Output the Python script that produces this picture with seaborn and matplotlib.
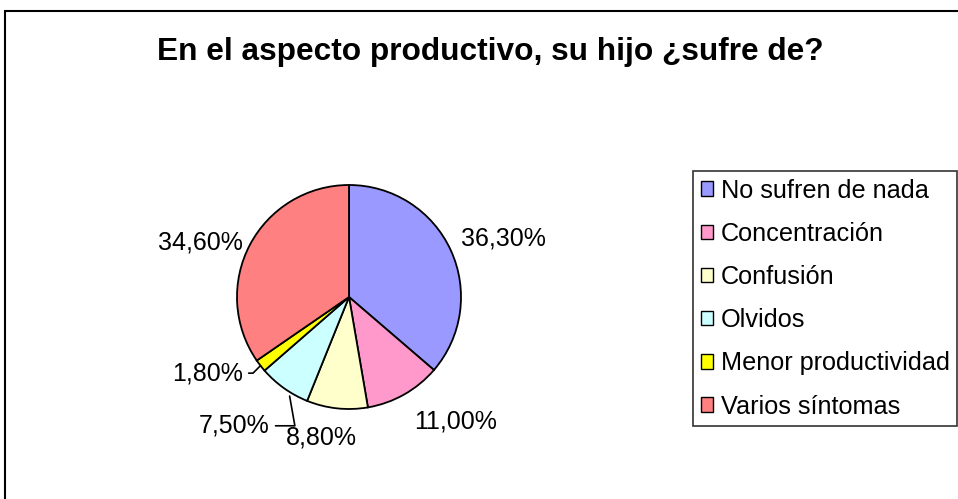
#!/usr/bin/env python3
"""
Pie chart: En el aspecto productivo, su hijo ¿sufre de?
"""
import numpy as np
import matplotlib
matplotlib.use("Agg")
import matplotlib.pyplot as plt
import seaborn as sns
from matplotlib.patches import Patch, Rectangle

sns.set_theme(style="white")
plt.rcParams['font.family'] = ['Liberation Sans', 'DejaVu Sans']
plt.rcParams['text.color'] = 'black'

# Data
categories = ["No sufren de nada", "Concentración", "Confusión", "Olvidos",
              "Menor productividad", "Varios síntomas"]
values = [36.3, 11.0, 8.8, 7.5, 1.8, 34.6]
value_labels = ["36,30%", "11,00%", "8,80%", "7,50%", "1,80%", "34,60%"]
colors = ["#9999FF", "#FF99CC", "#FFFFCC", "#CCFFFF", "#FFFF00", "#FF8080"]

W, H = 958, 499
fig = plt.figure(figsize=(W / 100, H / 100), dpi=100)

# outer frame
fig.patches.append(Rectangle((5 / W, -0.1), 1.2, 1 - 11 / H + 0.1,
                             transform=fig.transFigure, fill=False,
                             edgecolor="black", linewidth=1.5))

# pie axes: centre (349, 297) px, radius 112 px
R, lim = 112, 1.6
side = 2 * lim * R
cx, cy = 349 / W, 1 - 297 / H
ax = fig.add_axes([cx - side / 2 / W, cy - side / 2 / H, side / W, side / H])

wedges, _ = ax.pie(values, colors=colors, startangle=90, counterclock=False,
                   radius=1, wedgeprops=dict(edgecolor="black", linewidth=1.3))
ax.set_xlim(-lim, lim)
ax.set_ylim(-lim, lim)
ax.axis("off")

# label placement: (radius, angle tweak in degrees) per wedge
label_pos = [(1.47, -4), (1.46, 11), (1.28, -5), None, None, (1.41, 7.5)]
for w, lab, pos in zip(wedges, value_labels, label_pos):
    mid = np.deg2rad((w.theta1 + w.theta2) / 2)
    if pos is not None:
        r, tw = pos
        a = mid + np.deg2rad(tw)
        ax.text(r * np.cos(a), r * np.sin(a), lab, ha="center", va="center",
                fontsize=18, color="black")

# leader-line labels for small slices
w = wedges[3]
mid = np.deg2rad((w.theta1 + w.theta2) / 2)
ax.annotate(value_labels[3], xy=(np.cos(mid) + 0.05, np.sin(mid) - 0.07),
            xytext=(-0.71, -1.15), ha="right", va="center", fontsize=18,
            color="black",
            arrowprops=dict(arrowstyle="-", color="black", lw=1.2,
                            connectionstyle="angle,angleA=0,angleB=100,rad=0",
                            shrinkA=2, shrinkB=0))
w = wedges[4]
mid = np.deg2rad((w.theta1 + w.theta2) / 2)
ax.annotate(value_labels[4], xy=(np.cos(mid), np.sin(mid)),
            xytext=(-0.95, -0.68), ha="right", va="center", fontsize=18,
            color="black",
            arrowprops=dict(arrowstyle="-", color="black", lw=1.2,
                            connectionstyle="angle,angleA=0,angleB=-135,rad=0",
                            shrinkA=2, shrinkB=0))

fig.text(490 / W, 1 - 52 / H, "En el aspecto productivo, su hijo ¿sufre de?",
         ha="center", va="center", fontsize=22.8, fontweight="bold",
         color="black")

handles = [Patch(facecolor=c, edgecolor="black", linewidth=1) for c in colors]
leg = fig.legend(handles, categories, loc="upper left",
                 bbox_to_anchor=(693 / W, 1 - 171 / H), fontsize=18.2,
                 frameon=True, fancybox=False, shadow=False,
                 handlelength=0.5, handleheight=0.5, handletextpad=0.3,
                 labelspacing=0.76, borderpad=0.3, borderaxespad=0)
leg.get_frame().set_edgecolor("black")
leg.get_frame().set_linewidth(1.2)
for t in leg.get_texts():
    t.set_color("black")

fig.savefig("out.png", dpi=100, facecolor="white")
